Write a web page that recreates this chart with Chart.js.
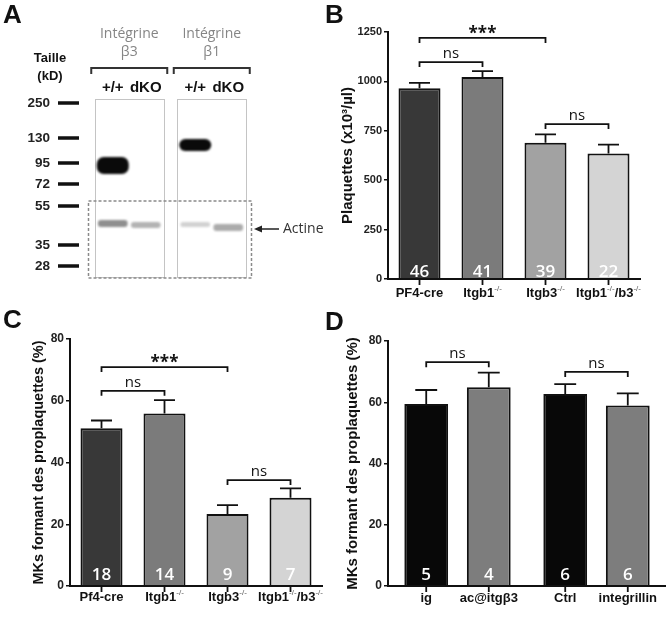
<!DOCTYPE html>
<html><head><meta charset="utf-8">
<script src="https://cdn.jsdelivr.net/npm/chart.js@4.4.1/dist/chart.umd.min.js"></script>
<style>
html,body{margin:0;padding:0;background:#fff;}
#wrap{position:relative;width:666px;height:621px;overflow:hidden;background:#fff;}
canvas{position:absolute;left:0;top:0;}
</style></head><body>
<div id="wrap">
<canvas id="cA" width="666" height="621"></canvas>
<canvas id="cB" width="666" height="621"></canvas>
<canvas id="cC" width="666" height="621"></canvas>
<canvas id="cD" width="666" height="621"></canvas>
</div>
<script>
// ---------- Panel A : western blot ----------
const blotNames = [['Intégrine','β3'],['Intégrine','β1']];
const laneNames = ['+/+','dKO'];
const markerKD = ['250','130','95','72','55','35','28'];
const markerMigration = [4,39,64,85,107,146,167];
const integrinWT = [[58,75],[40,52]];
const actinWT = [[121,128],[123,128]];
const actinKO = [[123,129],[125,132]];

// ---------- Panel B ----------
const catsB = ['PF4-cre','Itgb1-/-','Itgb3-/-','Itgb1-/-/b3-/-'];
const valuesB = [965, 1022, 690, 635];
const errorsB = [28, 30, 42, 45];
const countsB = ['46','41','39','22'];
const ticksB = [0,250,500,750,1000,1250];
const sigB = [[0,2,'***',1220],[0,1,'ns',1098],[2,3,'ns',784]];

// ---------- Panel C ----------
const catsC = ['Pf4-cre','Itgb1-/-','Itgb3-/-','Itgb1-/-/b3-/-'];
const valuesC = [51.1, 55.9, 23.3, 28.6];
const errorsC = [2.5, 4.3, 2.9, 3.0];
const countsC = ['18','14','9','7'];
const ticksC = [0,20,40,60,80];
const sigC = [[0,2,'***',70.9],[0,1,'ns',63.2],[2,3,'ns',34.3]];

// ---------- Panel D ----------
const catsD = ['ig','ac@itgβ3','Ctrl','integrillin'];
const valuesD = [59.4, 64.9, 62.7, 58.9];
const errorsD = [4.6, 4.8, 3.2, 4.0];
const countsD = ['5','4','6','6'];
const ticksD = [0,20,40,60,80];
const sigD = [[0,1,'ns',73.1],[2,3,'ns',69.9]];

const SANS = '"Liberation Sans", Arial, sans-serif';
const OPEN = '"Open Sans", "DejaVu Sans", sans-serif';

function drawLabel(ctx, text, cx, base, size){
  const parts = text.split(/(-\/-)/).filter(s => s.length);
  const mainF = 'bold ' + size + 'px ' + SANS;
  const supF = Math.round(size*0.62) + 'px ' + SANS;
  const widths = parts.map(s => { ctx.font = s === '-/-' ? supF : mainF; return ctx.measureText(s).width; });
  const total = widths.reduce((a,b)=>a+b,0);
  let x = cx - total/2;
  ctx.textAlign = 'left'; ctx.textBaseline = 'alphabetic';
  parts.forEach((s,k) => {
    const sup = s === '-/-';
    ctx.font = sup ? supF : mainF;
    ctx.fillStyle = sup ? '#555' : '#111';
    ctx.fillText(s, x, sup ? base - size*0.45 : base);
    x += widths[k];
  });
}

function barPanel(id, p){
  const n = p.values.length;
  const yW = 60, xH = 20;
  let labels, datasets;
  if (p.grouped){
    const nG = n/2;
    labels = Array.from({length:nG}, (_,g) => 'groupe ' + (g+1));
    datasets = [0,1].map(k => ({
      data: labels.map((_,g) => p.values[g*2+k]),
      backgroundColor: labels.map((_,g) => p.colors[g*2+k]),
      borderColor:'#111', borderWidth:2, borderSkipped:'bottom',
      categoryPercentage:0.9, barPercentage:0.7
    }));
  } else {
    labels = p.labels;
    datasets = [{data:p.values, backgroundColor:p.colors, borderColor:'#111', borderWidth:2,
      borderSkipped:'bottom', categoryPercentage:1, barPercentage:0.667}];
  }
  const elOf = (chart,i) => p.grouped ? chart.getDatasetMeta(i%2).data[Math.floor(i/2)] : chart.getDatasetMeta(0).data[i];
  const axisLeft = p.area.l - yW;
  const titlePad = p.titleX - axisLeft - p.titleSize*1.2/2;
  const deco = {
    id:'deco'+id,
    afterDatasetsDraw(chart){
      const ctx = chart.ctx, ys = chart.scales.y, b = chart.chartArea.bottom;
      ctx.save();
      for (let i=0;i<n;i++){
        const el = elOf(chart,i);
        const yt = ys.getPixelForValue(p.values[i] + p.errors[i]);
        const cw = el.width/4;
        ctx.strokeStyle = '#111'; ctx.lineWidth = 1.8;
        ctx.beginPath();
        ctx.moveTo(el.x, el.y); ctx.lineTo(el.x, yt);
        ctx.moveTo(el.x-cw, yt); ctx.lineTo(el.x+cw, yt);
        ctx.stroke();
        ctx.beginPath(); ctx.moveTo(el.x, b); ctx.lineTo(el.x, b+6); ctx.stroke();
        ctx.fillStyle = '#fff'; ctx.font = '600 17px ' + OPEN;
        ctx.textAlign = 'center'; ctx.textBaseline = 'alphabetic';
        ctx.fillText(p.counts[i], el.x, b - p.countLift);
        drawLabel(ctx, p.labels[i], el.x, b + p.labelDrop, p.labelSize);
      }
      for (const [i,j,txt,lvl] of p.sig){
        const x1 = elOf(chart,i).x, x2 = elOf(chart,j).x, yy = ys.getPixelForValue(lvl);
        ctx.strokeStyle = '#111'; ctx.lineWidth = 1.8;
        ctx.beginPath(); ctx.moveTo(x1, yy+5); ctx.lineTo(x1, yy); ctx.lineTo(x2, yy); ctx.lineTo(x2, yy+5); ctx.stroke();
        ctx.fillStyle = '#111'; ctx.textAlign = 'center'; ctx.textBaseline = 'alphabetic';
        if (txt === '***'){ ctx.font = 'bold 17px ' + OPEN; ctx.fillText(txt, (x1+x2)/2, yy+1); }
        else { ctx.font = '15px ' + OPEN; ctx.fillText(txt, (x1+x2)/2, yy-4); }
      }
      ctx.restore();
    }
  };
  return new Chart(document.getElementById(id), {
    type:'bar',
    data:{labels, datasets},
    options:{
      responsive:false, animation:false, devicePixelRatio:1,
      layout:{padding:{left:axisLeft, right:666-p.area.r, top:p.area.t, bottom:621-p.area.b-xH}},
      plugins:{legend:{display:false}, tooltip:{enabled:false}},
      scales:{
        x:{ticks:{display:false}, grid:{display:false}, border:{display:true, color:'#111', width:2, z:1},
           afterFit(s){ s.height = xH; }},
        y:{min:0, max:p.ticks[p.ticks.length-1],
           ticks:{stepSize:p.ticks[1]-p.ticks[0], autoSkip:false, color:'#222', padding:2,
                  font:{family:SANS, size:p.tickSize, weight:'bold'}, callback:(v) => String(v)},
           afterBuildTicks(s){ s.ticks = p.ticks.map(v => ({value:v})); },
           grid:{display:true, drawOnChartArea:false, drawTicks:true, tickLength:4, color:'#111', lineWidth:1.5},
           border:{display:true, color:'#111', width:2, z:1},
           title:{display:true, text:p.yTitle, color:'#111', padding:{top:titlePad, bottom:0},
                  font:{family:SANS, size:p.titleSize, weight:'bold', lineHeight:1.2}},
           afterFit(s){ s.width = yW; }}
      }
    },
    plugins:[deco]
  });
}

// ---------- Panel A chart ----------
const blotPlugin = {
  id:'blot',
  beforeDatasetsDraw(chart){
    const {ctx, chartArea:ca, scales:{x}} = chart;
    ctx.save();
    ctx.strokeStyle = '#c4c4c4'; ctx.lineWidth = 1;
    blotNames.forEach((_,g) => {
      const cx = x.getPixelForValue(g);
      ctx.strokeRect(Math.round(cx-34.5)+0.5, ca.top+0.5, 69, ca.bottom-ca.top-1);
    });
    ctx.restore();
    ctx.save();
    ctx.filter = 'blur(1.3px)';
  },
  afterDatasetsDraw(chart){ chart.ctx.restore(); },
  afterDraw(chart){
    const {ctx, chartArea:ca, scales:{x,y}} = chart;
    ctx.save();
    // dashed box around actin
    ctx.strokeStyle = '#8a8a8a'; ctx.lineWidth = 1.5; ctx.setLineDash([3,2]);
    const yTop = y.getPixelForValue(102);
    ctx.strokeRect(ca.left+0.5, yTop, ca.right-2-ca.left, ca.bottom-yTop);
    ctx.setLineDash([]);
    // size markers
    ctx.strokeStyle = '#111'; ctx.lineWidth = 3.5;
    markerMigration.forEach(m => {
      const py = y.getPixelForValue(m);
      ctx.beginPath(); ctx.moveTo(58, py); ctx.lineTo(79, py); ctx.stroke();
    });
    // brackets over blots
    ctx.strokeStyle = '#333'; ctx.lineWidth = 2;
    blotNames.forEach((_,g) => {
      const cx = x.getPixelForValue(g);
      ctx.beginPath(); ctx.moveTo(cx-38, 74); ctx.lineTo(cx-38, 68); ctx.lineTo(cx+38, 68); ctx.lineTo(cx+38, 74); ctx.stroke();
    });
    // lane labels
    ctx.fillStyle = '#111'; ctx.font = 'bold 15px ' + SANS; ctx.textAlign = 'center'; ctx.textBaseline = 'middle';
    const mWT = chart.getDatasetMeta(0), mKO = chart.getDatasetMeta(2);
    blotNames.forEach((_,g) => {
      ctx.fillText(laneNames[0], mWT.data[g].x, 88);
      ctx.fillText(laneNames[1], mKO.data[g].x, 88);
    });
    // Taille (kD)
    ctx.font = 'bold 13px ' + SANS;
    ctx.fillText('Taille', 50, 58);
    ctx.fillText('(kD)', 50, 76);
    // actin arrow
    const ay = y.getPixelForValue(130);
    ctx.strokeStyle = '#222'; ctx.lineWidth = 1.5;
    ctx.beginPath(); ctx.moveTo(279, ay); ctx.lineTo(259, ay); ctx.stroke();
    ctx.fillStyle = '#222';
    ctx.beginPath(); ctx.moveTo(254, ay); ctx.lineTo(262, ay-3.5); ctx.lineTo(262, ay+3.5); ctx.closePath(); ctx.fill();
    ctx.font = '14px ' + OPEN; ctx.textAlign = 'left'; ctx.fillStyle = '#333';
    ctx.fillText('Actine', 283, ay);
    // panel letters
    ctx.fillStyle = '#111'; ctx.font = 'bold 26px ' + SANS; ctx.textBaseline = 'alphabetic';
    ctx.fillText('A', 3, 23);
    ctx.fillText('B', 325, 23);
    ctx.fillText('C', 3, 328);
    ctx.fillText('D', 325, 330);
    ctx.restore();
  }
};

new Chart(document.getElementById('cA'), {
  type:'bar',
  data:{labels:blotNames, datasets:[
    {stack:'wt', data:integrinWT, backgroundColor:'#0a0a0a', barPercentage:0.97, categoryPercentage:0.8, borderRadius:7, borderSkipped:false},
    {stack:'wt', data:actinWT, backgroundColor:['#8f8f8f','#d2d2d2'], barPercentage:0.9, categoryPercentage:0.8, borderRadius:3, borderSkipped:false},
    {stack:'ko', data:actinKO, backgroundColor:['#b3b3b3','#ababab'], barPercentage:0.9, categoryPercentage:0.8, borderRadius:3, borderSkipped:false}
  ]},
  options:{
    responsive:false, animation:false, devicePixelRatio:1,
    layout:{padding:{left:0, top:0, right:666-253, bottom:621-278}},
    plugins:{legend:{display:false}, tooltip:{enabled:false}},
    scales:{
      x:{position:'top', grid:{display:false, drawTicks:false}, border:{display:false},
         ticks:{font:{family:OPEN, size:14, lineHeight:1.3}, color:'#858585', padding:38, maxRotation:0, autoSkip:false},
         afterFit(s){ s.height = 99; }},
      y:{reverse:true, min:0, max:179, stacked:false, grid:{display:false, drawTicks:false}, border:{display:false},
         ticks:{autoSkip:false, font:{family:SANS, size:13.5, weight:'bold'}, color:'#222', padding:38,
                callback:(v,i) => markerKD[i]},
         afterBuildTicks(s){ s.ticks = markerMigration.map(v => ({value:v})); },
         afterFit(s){ s.width = 88; }}
    }
  },
  plugins:[blotPlugin]
});

barPanel('cB', {area:{l:388, r:640, t:32, b:279}, labels:catsB, values:valuesB, errors:errorsB, counts:countsB,
  colors:['#383838','#7b7b7b','#a2a2a2','#d4d4d4'], ticks:ticksB, yTitle:'Plaquettes (x10³/µl)',
  titleSize:15, titleX:348, tickSize:11, labelSize:13, sig:sigB, countLift:2, labelDrop:18});
barPanel('cC', {area:{l:70, r:322, t:339, b:586}, labels:catsC, values:valuesC, errors:errorsC, counts:countsC,
  colors:['#383838','#7b7b7b','#a2a2a2','#d4d4d4'], ticks:ticksC, yTitle:'MKs formant des proplaquettes (%)',
  titleSize:14.5, titleX:38.5, tickSize:12, labelSize:13, sig:sigC, countLift:6, labelDrop:15});
barPanel('cD', {area:{l:388, r:666, t:341, b:586}, labels:catsD, values:valuesD, errors:errorsD, counts:countsD,
  colors:['#080808','#7d7d7d','#080808','#7d7d7d'], ticks:ticksD, yTitle:'MKs formant des proplaquettes (%)',
  titleSize:15, titleX:353, tickSize:12, labelSize:13, sig:sigD, countLift:6, labelDrop:16, grouped:true});
</script>
</body></html>
